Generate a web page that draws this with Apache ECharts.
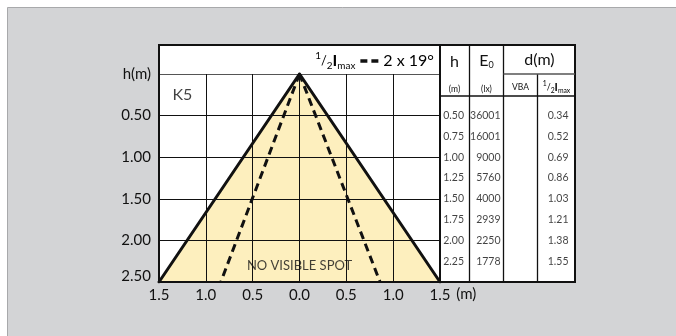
<!DOCTYPE html>
<html><head><meta charset="utf-8">
<script src="https://cdn.jsdelivr.net/npm/echarts@6/dist/echarts.min.js"></script>
<style>html,body{margin:0;padding:0;background:#fff}#c{width:676px;height:336px}</style>
</head><body><div id="c"></div>
<script>
// ---- data ----
const beamEdge = [[-1.5, 2.5], [0, 0], [1.5, 2.5]];
const halfImaxLeft = [[0, 0], [-0.84, 2.5]];
const halfImaxRight = [[0, 0], [0.86, 2.5]];
const tableH = [0.50, 0.75, 1.00, 1.25, 1.50, 1.75, 2.00, 2.25];
const tableE0 = [36001, 16001, 9000, 5760, 4000, 2939, 2250, 1778];
const tableHalfImax = [0.34, 0.52, 0.69, 0.86, 1.03, 1.21, 1.38, 1.55];
const noteK5 = [[-1.25, 0.25, 'K5']];
const noteSpot = [[0, 2.3, 'NO VISIBLE SPOT']];
const halfAngleText = '2 x 19°';

// ---- layout ----
const FONT = 'Lato, "Open Sans", sans-serif';
const INK = '#111';
const L = 159, T = 45, R = 575, B = 282, PR = 440, HY = 74;
const colH = 24, colE = 60.5, colHalf = 128.5; // right edges in table grid units (px)
const div1 = 469.5, div2 = 503.5, div3 = 537.5, hdrLine = 96;

const chart = echarts.init(document.getElementById('c'), null, {renderer: 'canvas'});

function tableSeries(vals, col, fmt) {
  return {
    type: 'scatter', xAxisIndex: 1, yAxisIndex: 1, symbolSize: 0, silent: true, z: 6,
    data: tableH.map((h, i) => [col, h, vals[i]]),
    label: {show: true, position: 'left', distance: 0, formatter: p => fmt(p.value[2]),
      fontFamily: FONT, fontSize: 10.5, color: INK}
  };
}
function noteSeries(data, size) {
  return {type: 'scatter', data: data, symbolSize: 0, silent: true, z: 6,
    label: {show: true, position: 'inside', formatter: p => p.value[2],
      fontFamily: FONT, fontSize: size, color: INK}};
}

const smallFrac = (s) => ({
  s1: {fontSize: s * 0.62, fontFamily: FONT, color: INK, verticalAlign: 'top'},
  sl: {fontSize: s * 0.8, fontFamily: FONT, color: INK},
  s2: {fontSize: s * 0.62, fontFamily: FONT, color: INK, verticalAlign: 'bottom'},
  I: {fontSize: s, fontFamily: FONT, color: INK, fontWeight: 'bold'},
  mx: {fontSize: s * 0.62, fontFamily: FONT, color: INK, verticalAlign: 'bottom'}
});

const legendRich = Object.assign(smallFrac(16), {
  d: {width: 7, height: 3.5, backgroundColor: INK},
  g: {width: 4},
  sp: {width: 5},
  t: {fontSize: 16, fontFamily: FONT, color: INK}
});

const graphics = [
  {type: 'rect', z: -20, shape: {x: 7.5, y: 7.5, width: 700, height: 400},
   style: {fill: '#d3d4d6', stroke: '#a8a9ab', lineWidth: 1}},
  {type: 'rect', z: -10, shape: {x: L, y: T, width: R - L, height: B - T}, style: {fill: '#fff'}},
  {type: 'rect', z: 50, shape: {x: L, y: T, width: R - L, height: B - T},
   style: {fill: 'none', stroke: INK, lineWidth: 2}},
  {type: 'line', z: 50, shape: {x1: PR, y1: T, x2: PR, y2: B}, style: {stroke: INK, lineWidth: 2}},
  {type: 'line', z: 50, shape: {x1: div1, y1: T, x2: div1, y2: B}, style: {stroke: INK, lineWidth: 1.3}},
  {type: 'line', z: 50, shape: {x1: div2, y1: T, x2: div2, y2: B}, style: {stroke: INK, lineWidth: 1.3}},
  {type: 'line', z: 50, shape: {x1: div3, y1: HY, x2: div3, y2: B}, style: {stroke: INK, lineWidth: 1.3}},
  {type: 'line', z: 50, shape: {x1: div2, y1: HY, x2: R, y2: HY}, style: {stroke: '#555', lineWidth: 1.3}},
  {type: 'line', z: 50, shape: {x1: PR, y1: hdrLine, x2: R, y2: hdrLine}, style: {stroke: INK, lineWidth: 1.3}},
  {type: 'text', z: 50, x: 434, y: 61, style: {
    text: '{s1|1}{sl|/}{s2|2}{I|I}{mx|max}{sp| }{d| }{g| }{d| }{sp| }{t|' + halfAngleText + '}',
    align: 'right', verticalAlign: 'middle', rich: legendRich, font: '16px ' + FONT, lineHeight: 20}},
  {type: 'text', z: 50, x: 454.5, y: 62, style: {text: 'h', font: '16px ' + FONT, fill: INK, align: 'center', verticalAlign: 'middle'}},
  {type: 'text', z: 50, x: 454.5, y: 89, style: {text: '(m)', font: '8.5px ' + FONT, fill: INK, align: 'center', verticalAlign: 'middle'}},
  {type: 'text', z: 50, x: 486.5, y: 61, style: {text: 'E{z|0}', font: '16px ' + FONT, fill: INK, align: 'center', verticalAlign: 'middle',
    rich: {z: {fontSize: 9, fontFamily: FONT, color: INK, verticalAlign: 'bottom'}}, lineHeight: 17}},
  {type: 'text', z: 50, x: 486.5, y: 89, style: {text: '(lx)', font: '8.5px ' + FONT, fill: INK, align: 'center', verticalAlign: 'middle'}},
  {type: 'text', z: 50, x: 539.5, y: 60, style: {text: 'd(m)', font: '16px ' + FONT, fill: INK, align: 'center', verticalAlign: 'middle'}},
  {type: 'text', z: 50, x: 520.5, y: 87, style: {text: 'VBA', font: '8.5px ' + FONT, fill: INK, align: 'center', verticalAlign: 'middle'}},
  {type: 'text', z: 50, x: 556.5, y: 87, style: {text: '{s1|1}{sl|/}{s2|2}{I|I}{mx|max}', font: '11px ' + FONT,
    align: 'center', verticalAlign: 'middle', rich: smallFrac(11), lineHeight: 14}}
];

chart.setOption({
  animation: false,
  backgroundColor: '#fff',
  textStyle: {fontFamily: FONT},
  grid: [
    {left: L, top: HY, width: PR - L, height: B - HY, containLabel: false},
    {left: PR, top: HY, width: R - PR, height: B - HY, containLabel: false}
  ],
  xAxis: [
    {type: 'value', gridIndex: 0, min: -1.5, max: 1.5, interval: 0.5, z: 3,
     axisLine: {show: true, onZero: false, lineStyle: {color: INK, width: 2}},
     axisTick: {show: false},
     splitLine: {show: true, lineStyle: {color: INK, width: 1}},
     axisLabel: {margin: 6, fontSize: 15, color: INK, fontFamily: FONT,
       formatter: v => Math.abs(v).toFixed(1)},
     name: '(m)', nameLocation: 'end', nameGap: 9,
     nameTextStyle: {fontSize: 15, color: INK, fontFamily: FONT, verticalAlign: 'top', align: 'left', padding: [5, 0, 0, 0], lineHeight: 15}},
    {type: 'value', gridIndex: 1, min: 0, max: R - PR, show: false}
  ],
  yAxis: [
    {type: 'value', gridIndex: 0, inverse: true, min: 0, max: 2.5, interval: 0.5, z: 3,
     axisLine: {show: true, onZero: false, lineStyle: {color: INK, width: 2}},
     axisTick: {show: false},
     splitLine: {show: true, lineStyle: {color: ['#555', INK, INK, INK, INK, INK], width: 1}},
     axisLabel: {margin: 8, fontSize: 15, color: INK, fontFamily: FONT,
       formatter: v => v === 0 ? 'h(m)' : (v === 2.5 ? '{lo|2.50}' : v.toFixed(2)),
       rich: {lo: {fontSize: 15, color: INK, fontFamily: FONT, padding: [0, 0, 12, 0]}}}},
    {type: 'value', gridIndex: 1, inverse: true, min: 0, max: 2.5, show: false}
  ],
  graphic: graphics,
  series: [
    {type: 'line', data: beamEdge, symbol: 'none', silent: true, z: 1,
     lineStyle: {width: 0}, areaStyle: {color: '#fdefbe', opacity: 1, origin: 'end'}},
    {type: 'line', data: beamEdge, symbol: 'none', silent: true, z: 5,
     lineStyle: {color: INK, width: 3, cap: 'round', join: 'miter'}},
    {type: 'line', data: halfImaxLeft, symbol: 'none', silent: true, z: 5,
     lineStyle: {color: INK, width: 3, type: [8, 5]}},
    {type: 'line', data: halfImaxRight, symbol: 'none', silent: true, z: 5,
     lineStyle: {color: INK, width: 3, type: [8, 5]}},
    noteSeries(noteK5, 16),
    noteSeries(noteSpot, 13),
    tableSeries(tableH, colH, v => v.toFixed(2)),
    tableSeries(tableE0, colE, v => String(v)),
    tableSeries(tableHalfImax, colHalf, v => v.toFixed(2))
  ]
});
</script></body></html>
